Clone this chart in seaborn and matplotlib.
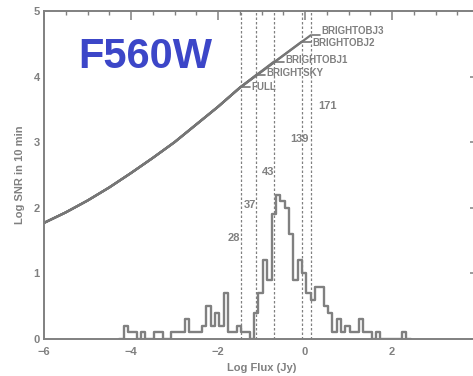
import numpy as np
import pandas as pd
import matplotlib
matplotlib.use("Agg")
import matplotlib.pyplot as plt
import seaborn as sns
from matplotlib.ticker import MultipleLocator

# ---- data -------------------------------------------------------------
# SNR curve (log SNR reached in 10 min vs log source flux)
curve_flux = [-6.0, -5.5, -5.0, -4.5, -4.0, -3.5, -3.0, -2.5, -2.0, -1.5]
curve_snr = [1.77, 1.93, 2.11, 2.31, 2.53, 2.76, 3.00, 3.27, 3.54, 3.83]

# readout modes: saturation flux and log SNR at saturation
modes = ["FULL", "BRIGHTSKY", "BRIGHTOBJ1", "BRIGHTOBJ2", "BRIGHTOBJ3"]
sat_flux = [-1.48, -1.13, -0.71, -0.08, 0.13]
sat_snr = [3.84, 4.02, 4.23, 4.53, 4.63]
label_snr = [3.84, 4.05, 4.25, 4.51, 4.69]

# source counts above each saturation limit
count_labels = ["28", "37", "43", "139", "171"]
count_x = [-1.48, -1.13, -0.71, 0.08, 0.73]
count_y = [1.5, 2.0, 2.5, 3.0, 3.5]

# histogram of catalogue fluxes, 0.1 dex bins starting at -4.27 log Jy
hist_start = -4.27
hist_width = 0.1
hist_heights = [
    0.0, 0.2, 0.1, 0.1, 0.0, 0.1, 0.0, 0.0, 0.1, 0.1,
    0.0, 0.0, 0.1, 0.1, 0.1, 0.3, 0.1, 0.1, 0.1, 0.2,
    0.5, 0.2, 0.4, 0.2, 0.7, 0.1, 0.1, 0.2, 0.1, 0.1,
    0.0, 0.4, 0.7, 1.2, 0.9, 1.9, 2.2, 2.1, 2.0, 1.6,
    0.9, 1.2, 1.0, 0.7, 0.6, 0.8, 0.8, 0.5, 0.4, 0.1,
    0.3, 0.1, 0.2, 0.1, 0.1, 0.3, 0.1, 0.1, 0.0, 0.1,
    0.0, 0.0, 0.0, 0.0, 0.0, 0.1, 0.0,
]

# ---- style ------------------------------------------------------------
sns.set_theme(style="white")
plt.rcParams["font.family"] = ["Liberation Sans", "DejaVu Sans"]
plt.rcParams["font.weight"] = "bold"
plt.rcParams["axes.labelweight"] = "bold"

GRAY = "#808080"
CURVE = "#767676"

fig = plt.figure(figsize=(4.73, 3.76), dpi=100)
# axes runs from log flux -6 to 4; the right edge sits just past the canvas
ax = fig.add_axes([44 / 473, 37 / 376, 435 / 473, 328 / 376])

# histogram
edges = [float(e) for e in hist_start + hist_width * np.arange(len(hist_heights) + 1)]
centers = [e + hist_width / 2 for e in edges[:-1]]
hist_df = pd.DataFrame({"flux": centers, "h": hist_heights})
sns.histplot(data=hist_df, x="flux", weights="h", bins=edges,
             element="step", fill=False, color=GRAY, linewidth=1.7, ax=ax)

# saturation limits
for xf in sat_flux:
    ax.axvline(xf, color=GRAY, lw=0.9, ls=(0, (2.0, 1.6)), zorder=1)

# SNR curves, one per readout mode, each stopping at its saturation point
for name, xf, ys, yl in zip(modes, sat_flux, sat_snr, label_snr):
    fx = [f for f in curve_flux if f < xf] + [xf]
    fy = [s for f, s in zip(curve_flux, curve_snr) if f < xf] + [ys]
    sns.lineplot(x=fx, y=fy, color=CURVE, lw=1.6, sort=False,
                 estimator=None, ax=ax)
    ax.plot([xf + 0.02, xf + 0.22], [ys, ys], color=CURVE, lw=1.2)
    ax.text(xf + 0.25, yl, name, color=GRAY, fontsize=7, fontweight="bold",
            ha="left", va="center")

# counts
for lab, xf, yv in zip(count_labels, count_x, count_y):
    ax.text(xf, yv, lab, color=GRAY, fontsize=8, fontweight="bold",
            ha="right", va="baseline")

ax.text(0.079, 0.861, "F560W", transform=ax.transAxes, color="#3c46c8",
        fontsize=30, fontweight="bold", ha="left", va="center")

# ---- axes -------------------------------------------------------------
ax.set_xlim(-6, 4)
ax.set_ylim(0, 5)
ax.xaxis.set_major_locator(MultipleLocator(2))
ax.xaxis.set_minor_locator(MultipleLocator(0.5))
ax.yaxis.set_major_locator(MultipleLocator(1))
ax.yaxis.set_minor_locator(MultipleLocator(0.1))
ax.tick_params(which="both", direction="in", top=True, right=True,
               color=GRAY, labelcolor=GRAY, labelsize=8)
ax.tick_params(which="major", length=6.5, width=1.1)
ax.tick_params(which="minor", length=3.2, width=1.0)
ax.tick_params(axis="x", pad=6)
ax.tick_params(axis="y", pad=3)
for s in ax.spines.values():
    s.set_color(GRAY)
    s.set_linewidth(1.4)

ax.set_xticks([-6, -4, -2, 0, 2, 4])
ax.set_xticklabels(["\u22126", "\u22124", "\u22122", "0", "2", ""])
ax.set_xlabel("Log Flux (Jy)", color=GRAY, fontsize=8, labelpad=4)
ax.set_ylabel("Log SNR in 10 min", color=GRAY, fontsize=8, labelpad=6)

fig.savefig("out.png", dpi=100)
